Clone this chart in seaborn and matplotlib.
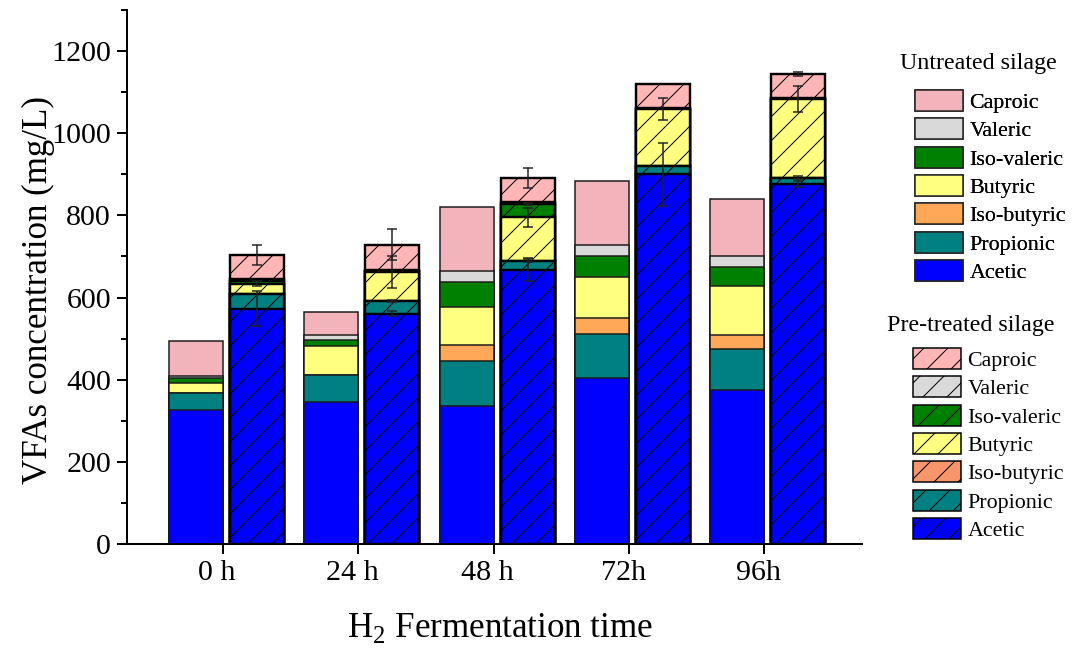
import numpy as np
import pandas as pd
import seaborn as sns
import matplotlib.pyplot as plt
from matplotlib.patches import Patch
from matplotlib.ticker import MultipleLocator
from matplotlib.transforms import ScaledTranslation

# time points and acids (bottom -> top of each stack)
times = ["0 h", "24 h", "48 h", "72h", "96h"]
acids = ["Acetic", "Propionic", "Iso-butyric", "Butyric", "Iso-valeric", "Valeric", "Caproic"]

# untreated silage (mg/L)
untreated_acetic = [327, 346, 335, 404, 376]
untreated_propionic = [41, 66, 110, 107, 99]
untreated_isobutyric = [0, 0, 40, 39, 34]
untreated_butyric = [24, 71, 91, 100, 119]
untreated_isovaleric = [11, 13, 62, 51, 47]
untreated_valeric = [5, 12, 26, 28, 25]
untreated_caproic = [85, 56, 156, 154, 139]

# pre-treated silage (mg/L)
pretreated_acetic = [573, 561, 667, 900, 876]
pretreated_propionic = [36, 30, 23, 19, 16]
pretreated_isobutyric = [0, 0, 0, 0, 0]
pretreated_butyric = [24, 72, 105, 140, 191]
pretreated_isovaleric = [7, 2, 33, 1, 1]
pretreated_valeric = [5, 3, 4, 1, 1]
pretreated_caproic = [58, 61, 59, 59, 60]

# error bars on the pre-treated stacks (0 = none drawn)
err_acetic = [43, 6, 28, 77, 8]
err_propionic = [0, 3, 3, 0, 4]
err_butyric = [6, 39, 24, 26, 32]
err_isovaleric = [0, 0, 3, 0, 0]
err_caproic = [25, 37, 24, 0, 5]

untreated_colors = ["#0000FF", "#008080", "#FFA858", "#FFFF80", "#008000", "#D9D9D9", "#F2B4BA"]
pretreated_colors = ["#0000FF", "#008080", "#F9956A", "#FFFF80", "#008000", "#D9D9D9", "#FFB6B6"]


def main():
    sns.set_theme(style="ticks")
    plt.rcParams["font.family"] = ["Liberation Serif", "DejaVu Serif"]
    plt.rcParams["mathtext.fontset"] = "custom"
    plt.rcParams["mathtext.rm"] = "Liberation Serif"
    plt.rcParams["hatch.linewidth"] = 1.0
    for key in ["text.color", "axes.labelcolor", "xtick.color", "ytick.color"]:
        plt.rcParams[key] = "black"

    untreated = [untreated_acetic, untreated_propionic, untreated_isobutyric,
                 untreated_butyric, untreated_isovaleric, untreated_valeric,
                 untreated_caproic]
    pretreated = [pretreated_acetic, pretreated_propionic, pretreated_isobutyric,
                  pretreated_butyric, pretreated_isovaleric, pretreated_valeric,
                  pretreated_caproic]

    fig = plt.figure(figsize=(1075 / 72, 655 / 72), dpi=72)
    ax = fig.add_axes([0.1181, 0.1695, 0.6837, 0.8153])

    idx = np.arange(len(times))
    pos_u = idx - 0.2
    pos_p = idx + 0.25

    cum_u = np.cumsum(np.array(untreated, dtype=float), axis=0)
    cum_p = np.cumsum(np.array(pretreated, dtype=float), axis=0)

    # overlay cumulative bars from the top layer down -> stacked look
    for k in reversed(range(len(acids))):
        sns.barplot(x=pos_u, y=cum_u[k], native_scale=True, width=0.4,
                    color=untreated_colors[k], saturation=1, errorbar=None,
                    edgecolor="#1a1a1a", linewidth=1.5, ax=ax)
        sns.barplot(x=pos_p, y=cum_p[k], native_scale=True, width=0.4,
                    color=pretreated_colors[k], saturation=1, errorbar=None,
                    edgecolor="black", linewidth=2.4, hatch="/", ax=ax)

    errs = {0: err_acetic, 1: err_propionic, 3: err_butyric,
            4: err_isovaleric, 6: err_caproic}
    for k, e in errs.items():
        e = np.array(e, dtype=float)
        m = e > 0
        ax.errorbar(pos_p[m], cum_p[k][m], yerr=e[m], fmt="none",
                    ecolor="#222222", elinewidth=1.5, capsize=5, capthick=1.5,
                    zorder=5)

    ax.set_xlim(-0.71, 4.72)
    ax.set_ylim(0, 1300)
    ax.set_xticks(idx)
    ax.set_xticklabels(times)
    ax.yaxis.set_major_locator(MultipleLocator(200))
    ax.yaxis.set_minor_locator(MultipleLocator(100))
    ax.tick_params(axis="both", which="major", direction="out", length=10,
                   width=2, labelsize=30, pad=6, color="black")
    ax.tick_params(axis="y", which="minor", direction="out", length=6,
                   width=2, color="black")
    shift = ScaledTranslation(-6 / 72, 0, fig.dpi_scale_trans)
    for lab in ax.get_xticklabels():
        lab.set_transform(lab.get_transform() + shift)
    sns.despine(ax=ax)
    for s in ["left", "bottom"]:
        ax.spines[s].set_linewidth(2)
        ax.spines[s].set_color("black")

    ax.set_ylabel("VFAs concentration (mg/L)", fontsize=35)
    ax.set_xlabel("H$_2$ Fermentation time", fontsize=35)
    ax.yaxis.set_label_coords(-0.098, 0.476)
    ax.xaxis.set_label_coords(0.5075, -0.125)

    leg_kw = dict(loc="upper left", frameon=False, fontsize=22,
                  handlelength=2.18, handleheight=1.1,
                  labelspacing=0.24, handletextpad=0.3, borderpad=0,
                  borderaxespad=0)

    h_u = [Patch(facecolor=untreated_colors[k], edgecolor="#222222",
                 linewidth=1.5, label=acids[k])
           for k in reversed(range(len(acids)))]
    h_p = [Patch(facecolor=pretreated_colors[k], edgecolor="black",
                 linewidth=1.5, hatch="/", label=acids[k])
           for k in reversed(range(len(acids)))]

    fig.text(978 / 1075, 1 - 63 / 655, "Untreated silage", fontsize=24,
             ha="center", va="center")
    fig.text(971 / 1075, 1 - 325 / 655, "Pre-treated silage", fontsize=24,
             ha="center", va="center")

    leg1 = fig.legend(handles=h_u, bbox_to_anchor=(915 / 1075, 1 - 90 / 655),
                      **leg_kw)
    fig.add_artist(leg1)
    fig.legend(handles=h_p, bbox_to_anchor=(913 / 1075, 1 - 348 / 655),
               **leg_kw)

    fig.savefig("out.png", dpi=72)


if __name__ == "__main__":
    main()
